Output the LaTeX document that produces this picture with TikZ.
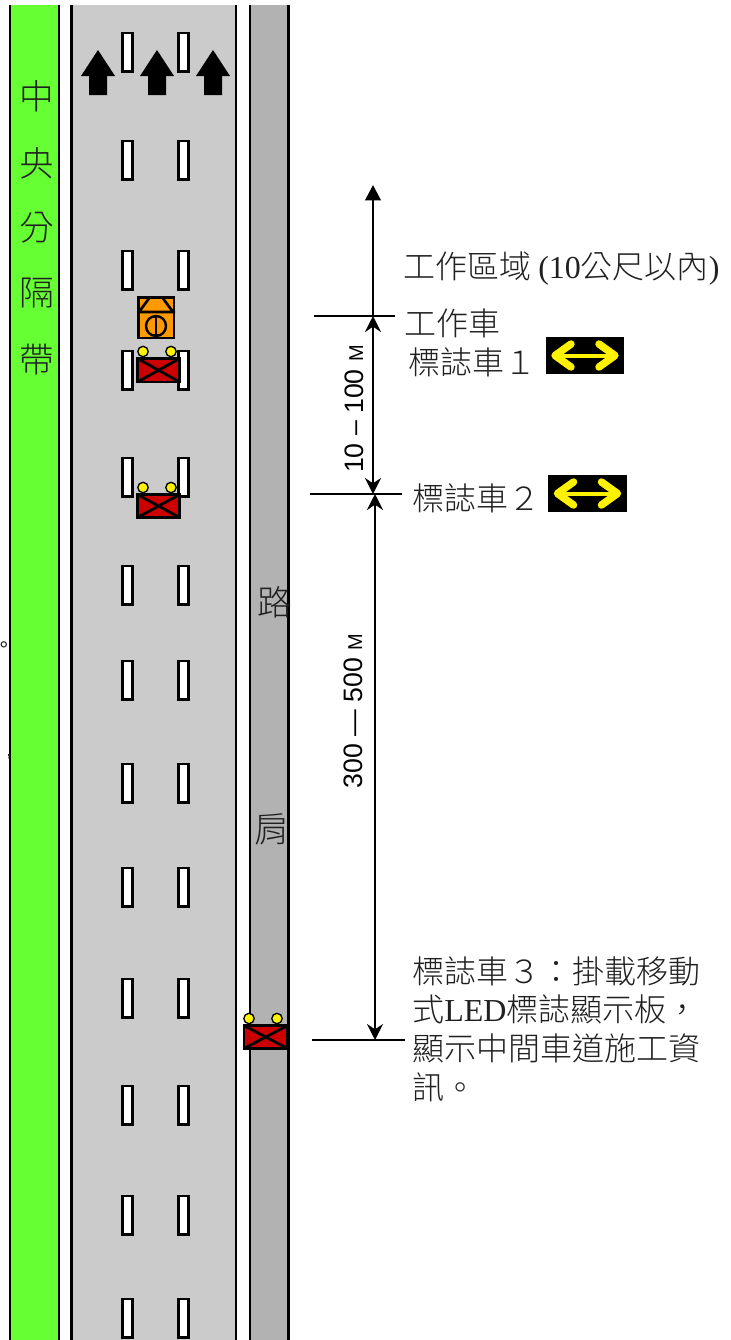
\documentclass[tikz,border=0pt]{standalone}
\usepackage{fontspec}
\setmainfont{Liberation Serif}
\setsansfont{Liberation Sans}
\newfontfamily\cjk{Noto Sans CJK TC Light}
\usetikzlibrary{arrows.meta}
\definecolor{green1}{HTML}{66FF33}
\definecolor{road1}{HTML}{CBCBCB}
\definecolor{shld1}{HTML}{B2B2B2}
\definecolor{red1}{HTML}{CC0000}
\definecolor{orange1}{HTML}{FF9900}
\definecolor{txt1}{HTML}{202020}
\tikzset{
  x=0.75pt,y=-0.75pt,
  edgeline/.style={black,line width=2.2pt},
  dashbox/.style={draw=black,fill=white,line width=2.1pt},
  lbl/.style={inner sep=0pt,anchor=west,text=txt1,font=\cjk\fontsize{24}{29}\selectfont,align=left},
  vlbl/.style={inner sep=0pt,text=txt1,font=\cjk\fontsize{26}{29}\selectfont},
  dim/.style={inner sep=0pt,rotate=90,anchor=center,font=\sffamily\fontsize{20}{20}\selectfont},
  lane/.style={fill=black},
  carbody/.style={draw=black,fill=red1,line width=2.1pt},
  lamp/.style={draw=black,fill=yellow,line width=1pt},
  hline/.style={black,line width=2.1pt},
  darrow/.style={black,line width=2.1pt},
  tipA/.style={-{Triangle[length=11.5pt,width=11.5pt]}},
  tipC/.style={{Stealth[length=12pt,width=12pt,inset=4pt]}-{Stealth[length=12pt,width=12pt,inset=4pt]}},
  chev/.style={yellow,line width=5.6pt,line cap=round,line join=round},
  shaft/.style={yellow,line width=3pt},
}
\newcommand{\lanedash}[2]{\draw[dashbox] (#1,#2) rectangle ++(10.5,38.5);}
\newcommand{\uparrowmark}[1]{\fill[lane] (#1,50) -- (#1+17,76) -- (#1+9,76) -- (#1+9,95) -- (#1-9,95) -- (#1-9,76) -- (#1-17,76) -- cycle;}
\newcommand{\redcar}[6]{% x1 y1 x2 y2 lamp1 lamp2
  \draw[lamp] (#5,#2-7) circle (5.2);
  \draw[lamp] (#6,#2-7) circle (5.2);
  \draw[carbody] (#1,#2) rectangle (#3,#4);
  \draw[black,line width=2.1pt] (#1,#2) -- (#3,#4) (#1,#4) -- (#3,#2);}
\newcommand{\signboard}[4]{% x1 y1 x2 y2
  \fill[black] (#1,#2) rectangle (#3,#4);
  \pgfmathsetmacro{\sx}{(#1+#3)/2}\pgfmathsetmacro{\sy}{(#2+#4)/2}
  \draw[shaft] (\sx-25,\sy) -- (\sx+25,\sy);
  \draw[chev] (\sx-14,\sy-11.5) -- (\sx-30,\sy) -- (\sx-14,\sy+11.5);
  \draw[chev] (\sx+14,\sy-11.5) -- (\sx+30,\sy) -- (\sx+14,\sy+11.5);}
\begin{document}
\begin{tikzpicture}
\useasboundingbox (0,0) rectangle (731,1340);
% strips
\fill[green1] (10,5) rectangle (59,1340);
\fill[road1] (72,5) rectangle (236,1340);
\fill[shld1] (250,5) rectangle (288,1340);
\draw[edgeline] (10,5) -- (10,1340);
\draw[edgeline] (59,5) -- (59,1340);
\draw[edgeline,line width=1.7pt] (71.5,5) -- (71.5,1340);
\draw[edgeline] (236,5) -- (236,1340);
\draw[edgeline,line width=1.7pt] (250,5) -- (250,1340);
\draw[edgeline,line width=1.7pt] (288.5,5) -- (288.5,1340);
% lane dashes
\foreach \yy in {33,141,251,351,458,566,661,764,868,979,1086,1196,1299}{
  \lanedash{122.3}{\yy}
  \lanedash{178.3}{\yy}
}
% flow arrows
\uparrowmark{98}\uparrowmark{157}\uparrowmark{213}
% work car
\draw[black,fill=orange1,line width=2.2pt] (138.5,297.5) rectangle (174,338);
\draw[black,line width=2pt] (138,312) -- (175,312) (139,312) -- (150,297) (162,297) -- (173,312);
\draw[black,line width=1.8pt] (156,326) circle (10);
\draw[black,line width=1.2pt] (156,317) -- (156,335) (152,317) -- (156,317) (152,335)--(160,335);
% marker cars
\redcar{137.5}{358.5}{179.5}{382}{143}{171}
\redcar{137.5}{494.5}{179.5}{517.5}{143}{171}
\redcar{244}{1025.5}{287.5}{1048.5}{249}{277}
% vertical texts
\node[vlbl] (t1) at (37,96) {中};
\node[vlbl] (t2) at (37,163) {央};
\node[vlbl] (t3) at (37,228) {分};
\node[vlbl] (t4) at (37,293) {隔};
\node[vlbl] (t5) at (37,360) {帶};
\node[vlbl] (t6) at (275,602) {路};
\node[vlbl] (t7) at (272,829) {肩};
% stray marks
\node[inner sep=0pt,text=txt1,font=\sffamily\fontsize{17}{17}\selectfont] (s1) at (4,650) {\textdegree};
\node[inner sep=0pt,text=txt1,font=\sffamily\fontsize{14}{14}\selectfont] (s2) at (9,757) {,};
% dimension lines
\coordinate (a1) at (314,316); \coordinate (a2) at (395,316);
\coordinate (b1) at (310,494); \coordinate (b2) at (402,494);
\coordinate (c1) at (312,1040); \coordinate (c2) at (405,1040);
\draw[hline] (a1) -- (a2);
\draw[hline] (b1) -- (b2);
\draw[hline] (c1) -- (c2);
\coordinate (up0) at (373,316); \coordinate (up1) at (373,185);
\coordinate (m1) at (373,316); \coordinate (m2) at (373,494);
\coordinate (l1) at (375,494); \coordinate (l2) at (375,1040);
\draw[darrow,tipA] (up0) -- (up1);
\draw[darrow,tipC] (m1) -- (m2);
\draw[darrow,tipC] (l1) -- (l2);
\node[dim] (d1) at (354,409) {10 – 100 {\fontsize{15}{15}\selectfont M}};
\node[dim] (d2) at (353,711) {300 — 500 {\fontsize{15}{15}\selectfont M}};
% labels
\node[lbl] (w1) at (403,269) {工作區域 {\rmfamily (10}公尺以內{\rmfamily )}};
\node[lbl] (w2) at (404,323) {工作車};
\node[lbl] (w3) at (408,362) {標誌車１};
\node[lbl] (w4) at (412,498) {標誌車２};
\node[lbl] (w5) at (412,1029) {標誌車３：掛載移動\\式{\rmfamily LED}標誌顯示板，\\顯示中間車道施工資\\訊。};
% sign boards
\signboard{546}{337}{624}{374}
\signboard{548}{475}{627}{512}
\end{tikzpicture}
\end{document}
